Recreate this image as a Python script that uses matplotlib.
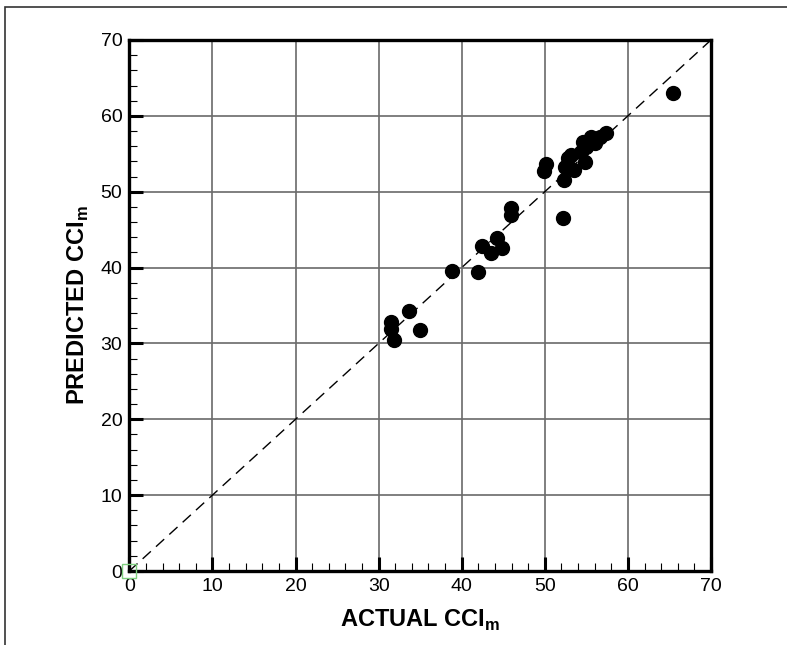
import numpy as np
import matplotlib.pyplot as plt
from matplotlib.patches import Rectangle
from matplotlib.ticker import MultipleLocator

plt.rcParams['font.family'] = ['Liberation Sans', 'DejaVu Sans']
plt.rcParams['mathtext.fontset'] = 'custom'
plt.rcParams['mathtext.bf'] = 'Liberation Sans:bold'

# actual vs predicted CCI_m
actual = [31.5, 31.5, 31.9, 33.6, 35.0, 38.8, 42.0, 42.4, 43.5, 44.2, 44.9,
          45.9, 45.9, 49.9, 50.2, 52.2, 52.3, 52.4, 52.8, 53.2, 53.5, 54.4,
          54.6, 54.8, 55.0, 55.6, 56.0, 56.6, 57.4, 65.4]
predicted = [32.8, 31.9, 30.4, 34.3, 31.8, 39.5, 39.4, 42.8, 41.9, 43.9, 42.6,
             47.9, 46.9, 52.7, 53.7, 46.5, 51.5, 53.3, 54.4, 54.8, 52.8, 55.2,
             56.6, 53.9, 55.9, 57.2, 56.4, 57.2, 57.8, 63.0]
ticks = [0, 10, 20, 30, 40, 50, 60, 70]

fig = plt.figure(figsize=(7.87, 6.45), dpi=100)
# outer frame of the exported page
fig.patches.append(Rectangle((5 / 787, -0.1), 1.2, 1 - 7 / 645 + 0.1,
                             transform=fig.transFigure, fill=False,
                             edgecolor='#333333', lw=1.2))
ax = fig.add_axes([129.3 / 787, 1 - 571 / 645, 581.7 / 787, 531 / 645])

ax.plot([0, 70], [0, 70], color='black', lw=1.0, dashes=(8, 5), zorder=2)
ax.scatter(actual, predicted, s=100, color='black', zorder=3, clip_on=False)
ax.plot([0], [0], marker='s', ms=10, mfc='none', mec='#7fcf7f', mew=1,
        clip_on=False, zorder=4)

ax.set_xlim(0, 70)
ax.set_ylim(0, 70)
ax.set_xticks(ticks)
ax.set_yticks(ticks)
ax.xaxis.set_minor_locator(MultipleLocator(2))
ax.yaxis.set_minor_locator(MultipleLocator(2))
ax.tick_params(which='major', direction='in', length=10, width=2.2,
               labelsize=14, pad=5)
ax.tick_params(which='minor', direction='in', length=6, width=0.8)
ax.grid(True, which='major', color='#6a6a6a', lw=1.2)
ax.set_axisbelow(True)
for sp in ax.spines.values():
    sp.set_linewidth(2.4)

ax.set_xlabel(r'ACTUAL CCI$_\mathbf{m}$', fontsize=17, fontweight='bold',
              labelpad=9)
ax.set_ylabel(r'PREDICTED CCI$_\mathbf{m}$', fontsize=17, fontweight='bold',
              labelpad=7)

fig.savefig('out.png', dpi=100)
